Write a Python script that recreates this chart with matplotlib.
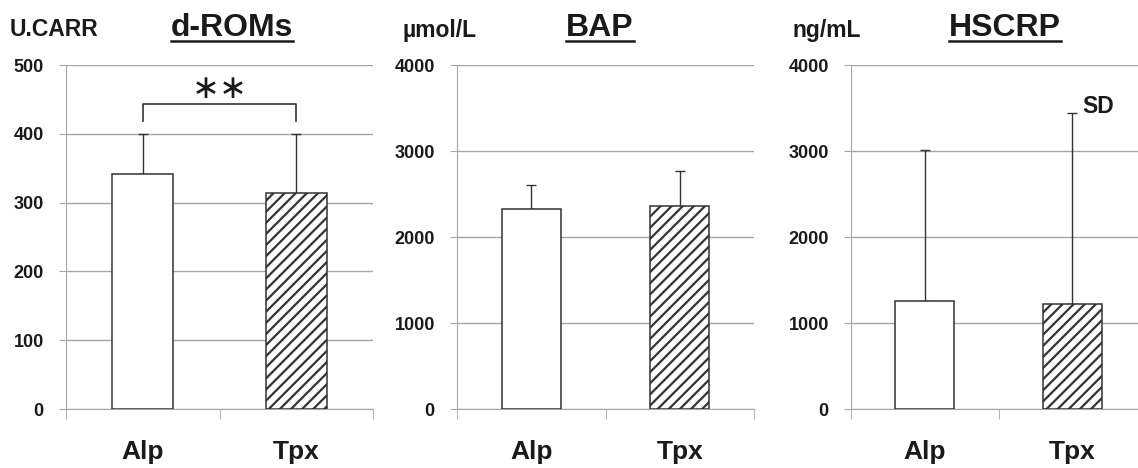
import numpy as np
import matplotlib
matplotlib.use('Agg')
import matplotlib.pyplot as plt
from matplotlib.lines import Line2D

plt.rcParams['font.family'] = ['Liberation Sans', 'DejaVu Sans']
plt.rcParams['hatch.linewidth'] = 1.6
plt.rcParams['hatch.color'] = '#333333'

groups = ['Alp', 'Tpx']
titles = ['d-ROMs', 'BAP', 'HSCRP']
units = ['U.CARR', 'µmol/L', 'ng/mL']

means = [[342, 314], [2330, 2362], [1252, 1217]]
sd_top = [[400, 399], [2600, 2772], [3010, 3440]]
ymax = [500, 4000, 4000]
ystep = [100, 1000, 1000]

# bracket for the d-ROMs significance mark
bracket_y = 443
bracket_leg = 419
star_y = 466

W, H = 1138, 468
# axes boxes in pixels: left, right, top, bottom
boxes = [(66, 373, 65, 409), (457, 754, 65, 409), (851, 1146, 65, 409)]
title_x = [232, 600, 1005]
unit_x = [10, 402, 792]

GRID = '#a6a6a6'
EDGE = '#333333'
TXT = '#1a1a1a'

fig = plt.figure(figsize=(W / 100, H / 100), dpi=100)
fig.patch.set_facecolor('white')

axes = []
for i in range(3):
    l, r, t, b = boxes[i]
    ax = fig.add_axes([l / W, 1 - b / H, (r - l) / W, (b - t) / H])
    axes.append(ax)
    x = np.arange(len(groups))
    err = np.array(sd_top[i]) - np.array(means[i])
    ax.errorbar(x, means[i], yerr=[np.zeros(2), err], fmt='none', ecolor=EDGE,
                elinewidth=1, capsize=3.5, capthick=1, zorder=2)
    ax.bar(x[0], means[i][0], width=0.4, color='white', edgecolor=EDGE, linewidth=1.1, zorder=3)
    ax.bar(x[1], means[i][1], width=0.4, color='white', edgecolor=EDGE, linewidth=1.1,
           hatch='///', zorder=3)

    ax.set_xlim(-0.5, 1.5)
    ax.set_ylim(0, ymax[i])
    ax.set_yticks(np.arange(0, ymax[i] + 1, ystep[i]))
    ax.yaxis.grid(True, color=GRID, linewidth=1)
    ax.set_axisbelow(True)
    for s in ['top', 'right']:
        ax.spines[s].set_visible(False)
    ax.spines['left'].set_color(GRID)
    ax.spines['bottom'].set_color(GRID)
    ax.tick_params(axis='y', direction='out', length=5, color=GRID, pad=11,
                   labelsize=13, labelcolor=TXT)
    for lab in ax.get_yticklabels():
        lab.set_fontweight('bold')
    ax.set_xticks(x)
    ax.set_xticklabels(groups, fontsize=19, fontweight='bold', color=TXT)
    ax.tick_params(axis='x', which='major', length=0, pad=22)
    ax.set_xticks([-0.5, 0.5, 1.5], minor=True)
    ax.tick_params(axis='x', which='minor', direction='out', length=7.5, color=GRID)

    fig.text(unit_x[i] / W, 1 - 36.5 / H, units[i], fontsize=16.5, fontweight='bold',
             color=TXT, ha='left', va='baseline')
    fig.text(title_x[i] / W, 1 - 36 / H, titles[i], fontsize=23, fontweight='bold',
             color=TXT, ha='center', va='baseline')

# significance bracket
ax0 = axes[0]
ax0.plot([0, 0, 1, 1], [bracket_leg, bracket_y, bracket_y, bracket_leg], color=EDGE, linewidth=1.2)
ax0.text(0.5, star_y, '∗∗', ha='center', va='center', fontsize=24, color=TXT,
         family='DejaVu Sans')

axes[2].text(1.07, 3512, 'SD', ha='left', va='center', fontsize=16.5, fontweight='bold', color=TXT)

# underline the titles
fig.canvas.draw()
renderer = fig.canvas.get_renderer()
for t in fig.texts:
    if t.get_text() in titles:
        bb = t.get_window_extent(renderer)
        y = 1 - 40.5 / H
        fig.add_artist(Line2D([bb.x0 / W, bb.x1 / W], [y, y], transform=fig.transFigure,
                              color=TXT, linewidth=1.8))

fig.savefig('out.png', dpi=100)
